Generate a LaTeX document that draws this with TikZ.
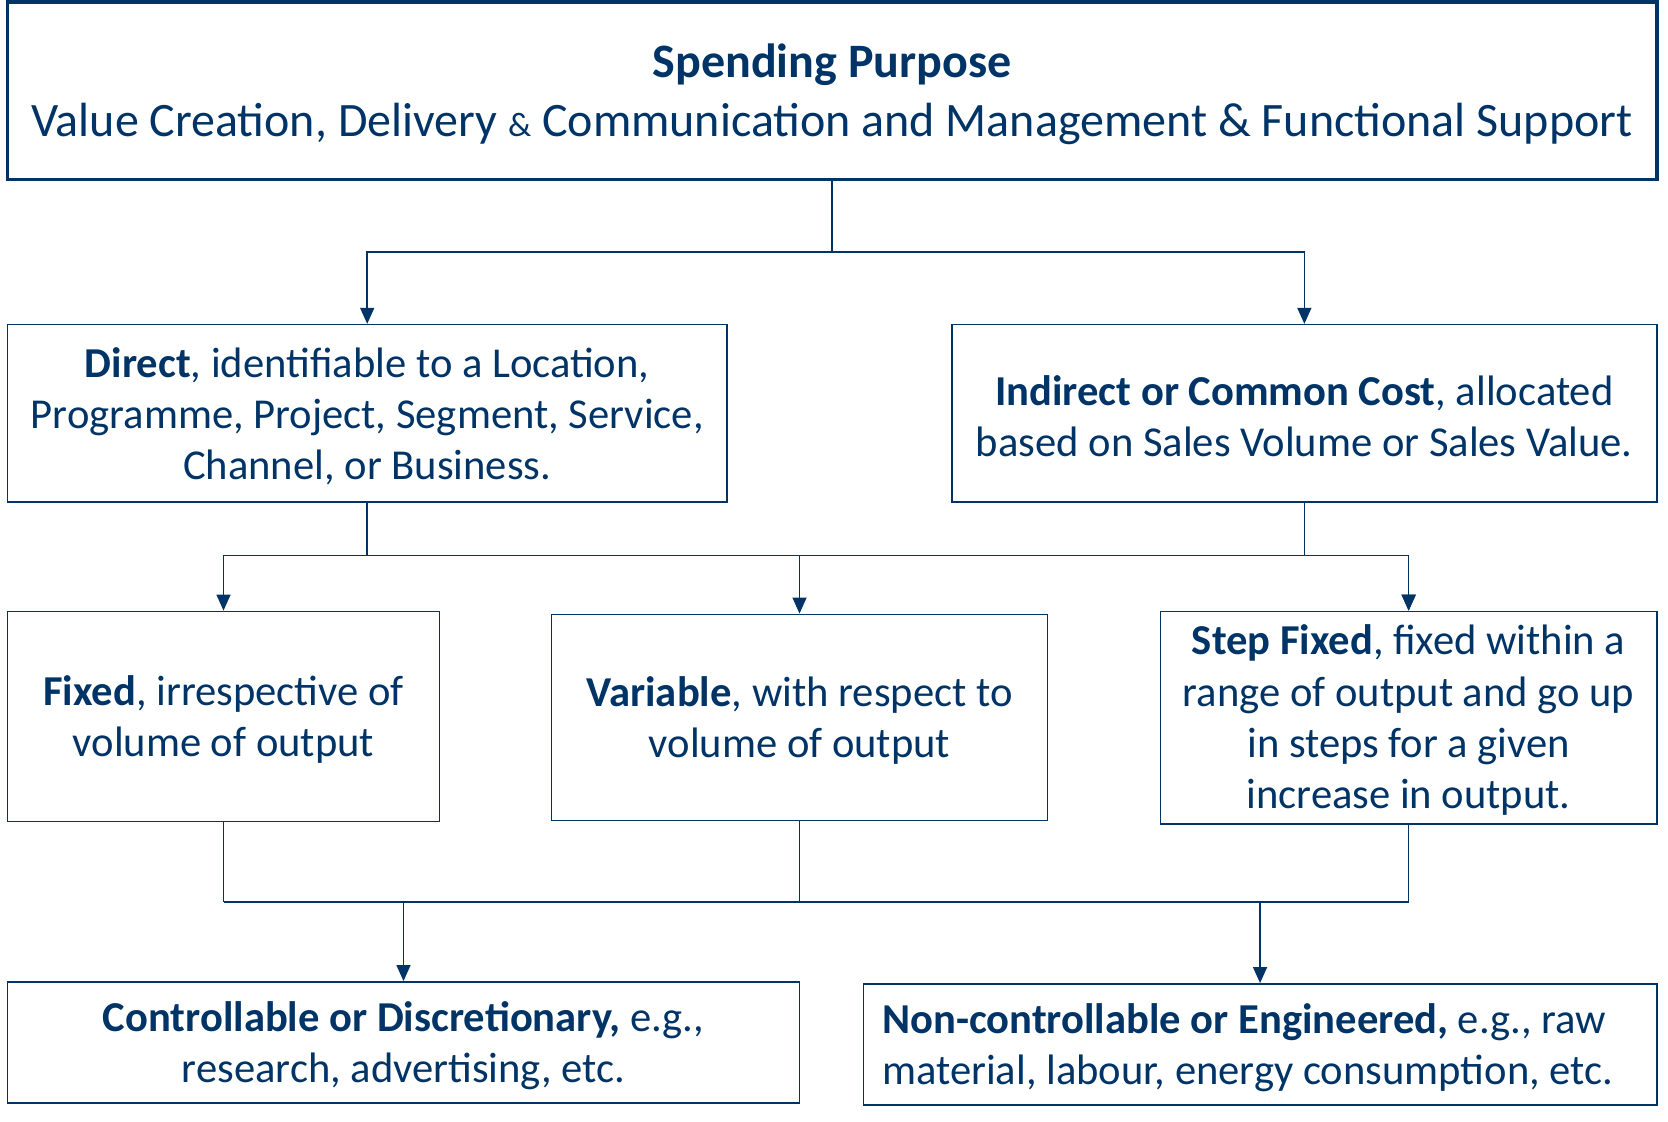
\documentclass[tikz,border=0pt]{standalone}
\usepackage{fontspec}
\setmainfont{Carlito}
\usetikzlibrary{arrows.meta}
\definecolor{navy}{RGB}{0,51,102}
\tikzset{
  box/.style={draw=navy, line width=0.75pt, inner sep=0pt},
  boxtext/.style={text=navy, align=center, inner sep=0pt, font=\fontsize{21.3}{25.65}\selectfont},
  topbox/.style={draw=navy, line width=1.6pt, inner sep=0pt},
  toptext/.style={text=navy, align=center, inner sep=0pt, font=\fontsize{24}{29.5}\selectfont},
  conn/.style={draw=navy, line width=0.75pt},
  arr/.style={conn, -{Triangle[length=8pt,width=7pt]}}
}
\begin{document}
\begin{tikzpicture}[x=0.5pt,y=-0.5pt]
\useasboundingbox (0,0) rectangle (1668,1122);
% boxes
\node[topbox, minimum width=824.9pt, minimum height=88.6pt] (top) at (832,90.6) {};
\node[box, minimum width=359.7pt, minimum height=88.6pt] (direct) at (367.2,413.2) {};
\node[box, minimum width=352.45pt, minimum height=88.6pt] (indirect) at (1304.35,413.2) {};
\node[box, minimum width=216.05pt, minimum height=105.05pt] (fixed) at (223.5,716.4) {};
\node[box, minimum width=247.95pt, minimum height=103.1pt] (variable) at (799.5,717.4) {};
\node[box, minimum width=248.15pt, minimum height=106.25pt] (step) at (1408.65,717.65) {};
\node[box, minimum width=396pt, minimum height=60.7pt] (contr) at (403.5,1042.5) {};
\node[box, minimum width=396.75pt, minimum height=60.7pt] (noncontr) at (1260.05,1044.5) {};
% texts
\node[toptext] (toplabel) at ([yshift=-1.6pt]top.center)
  {\textbf{Spending Purpose}\\Value Creation, Delivery {\fontsize{17}{20}\selectfont\&} Communication and Management \& Functional Support};
\node[boxtext] (directtext) at ([yshift=-1.6pt]direct.center)
  {\textbf{Direct}, identifiable to a Location,\\Programme, Project, Segment, Service,\\Channel, or Business.};
\node[boxtext] (indirecttext) at ([yshift=-1.4pt]indirect.center)
  {\textbf{Indirect or Common Cost}, allocated\\based on Sales Volume or Sales Value.};
\node[boxtext] (fixedtext) at ([yshift=-1.6pt]fixed.center)
  {\textbf{Fixed}, irrespective of\\volume of output};
\node[boxtext] (variabletext) at ([yshift=-1.6pt]variable.center)
  {\textbf{Variable}, with respect to\\volume of output};
\node[boxtext] (steptext) at ([yshift=-1.3pt]step.center)
  {\textbf{Step Fixed}, fixed within a\\range of output and go up\\in steps for a given\\increase in output.};
\node[boxtext] (contrtext) at ([yshift=-1.6pt]contr.center)
  {\textbf{Controllable or Discretionary,} e.g.,\\research, advertising, etc.};
\node[boxtext, align=flush left, anchor=west] (noncontrtext) at ([xshift=9.6pt,yshift=-1.6pt]noncontr.west)
  {\textbf{Non-controllable or Engineered,} e.g., raw\\material, labour, energy consumption, etc.};
% junctions
\coordinate (j1) at (832,251.9);
\coordinate (j2) at (832,555.6);
\coordinate (j3) at (832,901.9);
% top level
\draw[conn] (top.south) -- (j1);
\draw[arr] (j1) -| (direct.north);
\draw[arr] (j1) -| (indirect.north);
% middle level
\draw[conn] (direct.south) -- (direct.south |- j2);
\draw[conn] (indirect.south) -- (indirect.south |- j2);
\draw[arr] (direct.south |- j2) -| (fixed.north);
\draw[arr] (direct.south |- j2) -| (variable.north);
\draw[arr] (direct.south |- j2) -| (step.north);
\draw[arr] (indirect.south |- j2) -| (step.north);
% bottom level
\draw[conn] (fixed.south) -- (fixed.south |- j3);
\draw[conn] (variable.south) -- (variable.south |- j3);
\draw[conn] (step.south) -- (step.south |- j3);
\draw[conn] (fixed.south |- j3) -- (step.south |- j3);
\draw[arr] (contr.north |- j3) -- (contr.north);
\draw[arr] (noncontr.north |- j3) -- (noncontr.north);
\end{tikzpicture}
\end{document}
